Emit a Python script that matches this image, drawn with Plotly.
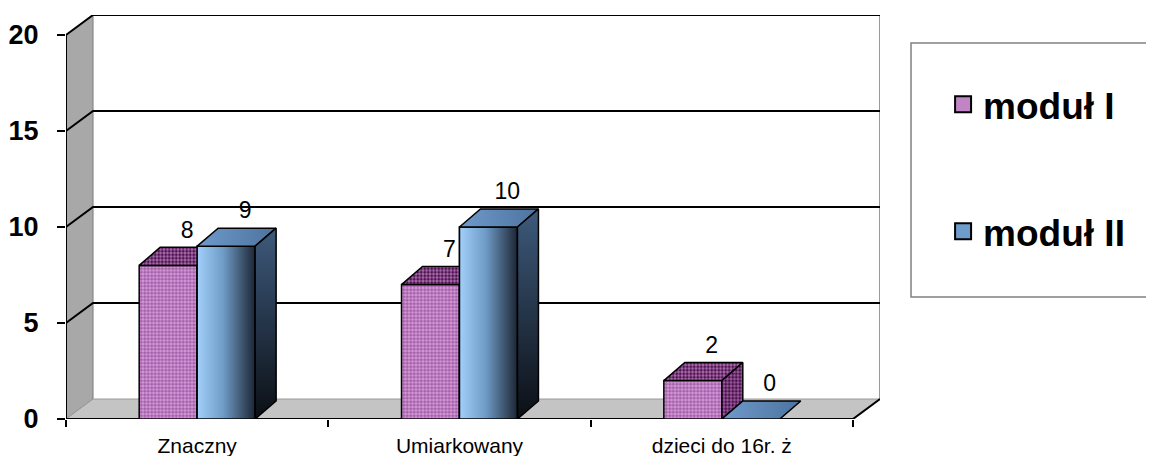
import plotly.graph_objects as go

# ---------------- data ----------------
categories = ["Znaczny", "Umiarkowany", "dzieci do 16r. ż"]
series_names = ["moduł I", "moduł II"]
modul_1 = [8, 7, 2]
modul_2 = [9, 10, 0]
y_ticks = [0, 5, 10, 15, 20]

# ---------------- 3D look parameters (axis units) ----------------
WALL_DX, WALL_DY = 0.103, 1.04     # depth of walls / floor
BAR_DX, BAR_DY = 0.08, 0.94        # depth of bars
BAR_W = 0.221
LABEL_DX, LABEL_DY = 0.072, 1.75
XMIN, XMAX = -0.5, len(categories) - 0.5
YMAX = y_ticks[-1]
xs = list(range(len(categories)))

FONT = "Liberation Sans, Arial, sans-serif"

fig = go.Figure()

# ---------------- front faces (real bars) ----------------
fig.add_bar(
    x=xs, y=modul_1, width=BAR_W, offset=-BAR_W, name=series_names[0],
    legendgroup="m1", showlegend=False,
    marker=dict(color="#d7a0db",
                pattern=dict(shape=".", fgcolor="#74207a", size=3.5, solidity=0.65,
                             fillmode="overlay"),
                line=dict(color="black", width=1.5)),
    hoverinfo="skip",
)
fig.add_bar(
    x=xs, y=modul_2, width=BAR_W, offset=0, name=series_names[1],
    legendgroup="m2", showlegend=False,
    marker=dict(color="#6f9fd0", line=dict(color="black", width=1.5)),
    hoverinfo="skip",
)


def poly(xv, yv, group, **kw):
    fig.add_trace(go.Scatter(x=xv, y=yv, mode="lines", fill="toself",
                             line=dict(color="black", width=1.5), legendgroup=group,
                             showlegend=False, hoverinfo="skip", **kw))


def top_side(x0, v):
    x1 = x0 + BAR_W
    top = ([x0, x1, x1 + BAR_DX, x0 + BAR_DX, x0], [v, v, v + BAR_DY, v + BAR_DY, v])
    side = ([x1, x1 + BAR_DX, x1 + BAR_DX, x1, x1], [0, BAR_DY, v + BAR_DY, v, 0])
    return top, side


# module I: top and side faces
for c, v in zip(xs, modul_1):
    top, side = top_side(c - BAR_W, v)
    poly(*top, "m1", fillpattern=dict(shape=".", fgcolor="#4e124f", bgcolor="#ad72b0",
                                      size=3.5, solidity=0.55, fillmode="replace"))
    if v > 0:
        poly(*side, "m1", fillpattern=dict(shape=".", fgcolor="#4a0f4b", bgcolor="#9c60a0",
                                           size=3.5, solidity=0.55, fillmode="replace"))

# module II: gradient front, top and side faces
for c, v in zip(xs, modul_2):
    x0, x1 = c, c + BAR_W
    if v > 0:
        poly([x0, x1, x1, x0, x0], [0, 0, v, v, 0], "m2",
             fillgradient=dict(type="horizontal",
                               colorscale=[[0, "#a2d0fa"], [0.45, "#6f9bc7"],
                                           [1, "#1c2634"]]))
    top, side = top_side(x0, v)
    poly(*top, "m2", fillgradient=dict(type="horizontal",
                                       colorscale=[[0, "#6e9acb"], [1, "#4d739e"]]))
    if v > 0:
        poly(*side, "m2", fillgradient=dict(type="vertical",
                                            colorscale=[[0, "#0b0f14"], [1, "#3e5a7c"]]))

# ---------------- data labels ----------------
lab_x, lab_y, lab_t = [], [], []
for c, v1, v2 in zip(xs, modul_1, modul_2):
    lab_x += [c - BAR_W / 2 + LABEL_DX, c + BAR_W / 2 + LABEL_DX]
    lab_y += [v1 + LABEL_DY, v2 + LABEL_DY]
    lab_t += [str(v1), str(v2)]
fig.add_trace(go.Scatter(x=lab_x, y=lab_y, text=lab_t, mode="text",
                         textfont=dict(size=23, color="black", family=FONT),
                         showlegend=False, hoverinfo="skip"))

# ---------------- legend entries (square swatches) ----------------
for name, grp, col in [(series_names[0], "m1", "#c185c5"),
                       (series_names[1], "m2", "#6e9ccb")]:
    fig.add_trace(go.Scatter(x=[None], y=[None], mode="markers", name=name,
                             legendgroup=grp,
                             marker=dict(symbol="square", size=16, color=col,
                                         line=dict(color="black", width=2))))

# ---------------- walls, floor, grid ----------------
shapes = []
# left wall
shapes.append(dict(type="path", xref="x", yref="y", layer="below",
                   path=f"M {XMIN},0 L {XMIN},{YMAX} L {XMIN + WALL_DX},{YMAX + WALL_DY} "
                        f"L {XMIN + WALL_DX},{WALL_DY} Z",
                   fillcolor="#a8a8a8", line=dict(color="#7a7a7a", width=1)))
# floor
shapes.append(dict(type="path", xref="x", yref="y", layer="below",
                   path=f"M {XMIN},0 L {XMAX},0 L {XMAX + WALL_DX},{WALL_DY} "
                        f"L {XMIN + WALL_DX},{WALL_DY} Z",
                   fillcolor="#c4c4c4", line=dict(color="#9a9a9a", width=1)))
# back wall right edge
shapes.append(dict(type="line", xref="x", yref="y", layer="below",
                   x0=XMAX + WALL_DX, x1=XMAX + WALL_DX, y0=WALL_DY, y1=YMAX + WALL_DY,
                   line=dict(color="#9a9a9a", width=2)))
# gridlines
for t in y_ticks[1:]:
    shapes.append(dict(type="path", xref="x", yref="y", layer="below",
                       path=f"M {XMIN},{t} L {XMIN + WALL_DX},{t + WALL_DY} "
                            f"L {XMAX + WALL_DX},{t + WALL_DY}",
                       line=dict(color="black", width=2)))
# front axis lines
shapes.append(dict(type="line", xref="x", yref="y", layer="below",
                   x0=XMIN, x1=XMIN, y0=0, y1=YMAX, line=dict(color="black", width=2)))
shapes.append(dict(type="path", xref="x", yref="y", layer="below",
                   path=f"M {XMIN},0 L {XMAX},0 L {XMAX + WALL_DX},{WALL_DY}",
                   line=dict(color="black", width=2)))
# legend frame
shapes.append(dict(type="rect", xref="paper", yref="paper",
                   x0=1.0381, x1=1.5, y0=0.302, y1=0.9307,
                   line=dict(color="#808080", width=1.5), fillcolor="rgba(0,0,0,0)"))

# page has an 8px body margin, so the figure's own margins are reduced by 8
fig.update_layout(
    width=1154, height=456,
    margin=dict(l=58, r=282, t=7, b=45, autoexpand=False),
    paper_bgcolor="white", plot_bgcolor="white",
    font=dict(family=FONT, color="black"),
    barmode="overlay",
    shapes=shapes,
    showlegend=True,
    legend=dict(x=1.0775, y=0.855, xanchor="left", yanchor="top",
                font=dict(size=37, family=FONT, weight="bold"),
                tracegroupgap=76, bgcolor="rgba(0,0,0,0)", borderwidth=0),
    xaxis=dict(range=[XMIN, XMAX + WALL_DX], tickmode="array", tickvals=xs,
               ticktext=categories, ticks="", showgrid=False, zeroline=False,
               showline=False, tickfont=dict(size=21, family=FONT),
               ticklabelstandoff=12, fixedrange=True, automargin=False,
               minor=dict(tickmode="array",
                          tickvals=[XMIN + i for i in range(len(categories) + 1)],
                          ticks="outside", ticklen=7, tickcolor="black",
                          tickwidth=1.5, showgrid=False)),
    yaxis=dict(range=[0, YMAX + WALL_DY], tickmode="array", tickvals=y_ticks,
               ticks="outside", ticklen=8, tickcolor="black", tickwidth=1.5,
               tickfont=dict(size=27, family=FONT, weight="bold"),
               showgrid=False, zeroline=False, showline=False,
               ticklabelstandoff=13, fixedrange=True, automargin=False),
)

fig.write_html("out.html")
